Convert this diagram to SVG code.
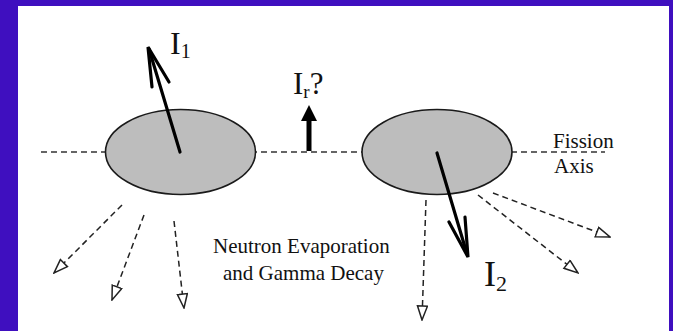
<svg xmlns="http://www.w3.org/2000/svg" width="673" height="331" viewBox="0 0 673 331">
<style>
.frame{fill:#3f0fbf}
.paper{fill:#ffffff}
.nuc{fill:#bdbdbd;stroke:#1a1a1a;stroke-width:1.6}
.axis{fill:none;stroke:#333;stroke-width:1.5;stroke-dasharray:6 4}
.emit{fill:none;stroke:#222;stroke-width:1.5;stroke-dasharray:6 4;marker-end:url(#open)}
.spin{fill:none;stroke:#000;stroke-width:3.2;stroke-linecap:round;stroke-linejoin:miter}
.lbl{font-family:"Liberation Serif","Times New Roman",serif;fill:#111}
</style>
<defs>
<marker id="open" viewBox="0 0 16 12" refX="15" refY="6" markerWidth="16" markerHeight="12" markerUnits="userSpaceOnUse" orient="auto">
<path d="M1,1 L15,6 L1,11 Z" fill="#fff" stroke="#222" stroke-width="1.5" stroke-dasharray="none"/>
</marker>
</defs>
<rect class="frame" x="0" y="0" width="673" height="331"/>
<rect class="paper" x="18" y="6" width="651" height="325"/>
<g id="connectors">
<line id="fission-axis" class="axis" x1="41" y1="152" x2="605" y2="152"/>
<line class="emit" x1="122" y1="205" x2="54" y2="273"/>
<line class="emit" x1="144" y1="215" x2="112" y2="300"/>
<line class="emit" x1="174" y1="221" x2="184" y2="308"/>
<line class="emit" x1="426" y1="200" x2="422" y2="320"/>
<line class="emit" x1="478" y1="195" x2="578" y2="273"/>
<line class="emit" x1="493" y1="193" x2="610" y2="237"/>
</g>
<g id="fragment1">
<ellipse class="nuc" cx="180.5" cy="152" rx="75" ry="42.5"/>
</g>
<g id="fragment2">
<ellipse class="nuc" cx="437" cy="152" rx="75" ry="42.5"/>
</g>
<g id="spin1">
<line class="spin" x1="180" y1="152" x2="149" y2="49"/>
<polyline class="spin" points="152,87 148,47 169,82"/>
<text class="lbl" x="170" y="54" font-size="32">I<tspan font-size="20" dy="4">1</tspan></text>
</g>
<g id="spin-rel">
<line x1="309" y1="151" x2="309" y2="119" stroke="#000" stroke-width="5"/>
<path d="M309,105 L317,121 L301,121 Z" fill="#000"/>
<text class="lbl" x="293" y="94" font-size="31">I<tspan font-size="19" dy="4">r</tspan><tspan dy="-4">?</tspan></text>
</g>
<g id="spin2">
<line class="spin" x1="437" y1="153" x2="467" y2="254"/>
<polyline class="spin" points="449,222 468,257 465,217"/>
<text class="lbl" x="484" y="286" font-size="36">I<tspan font-size="22" dy="5">2</tspan></text>
</g>
<g id="labels">
<text class="lbl" x="553" y="148" font-size="21">Fission</text>
<text class="lbl" x="554" y="173" font-size="21">Axis</text>
<text class="lbl" x="213" y="253" font-size="21">Neutron Evaporation</text>
<text class="lbl" x="223" y="280" font-size="21">and Gamma Decay</text>
</g>
</svg>
